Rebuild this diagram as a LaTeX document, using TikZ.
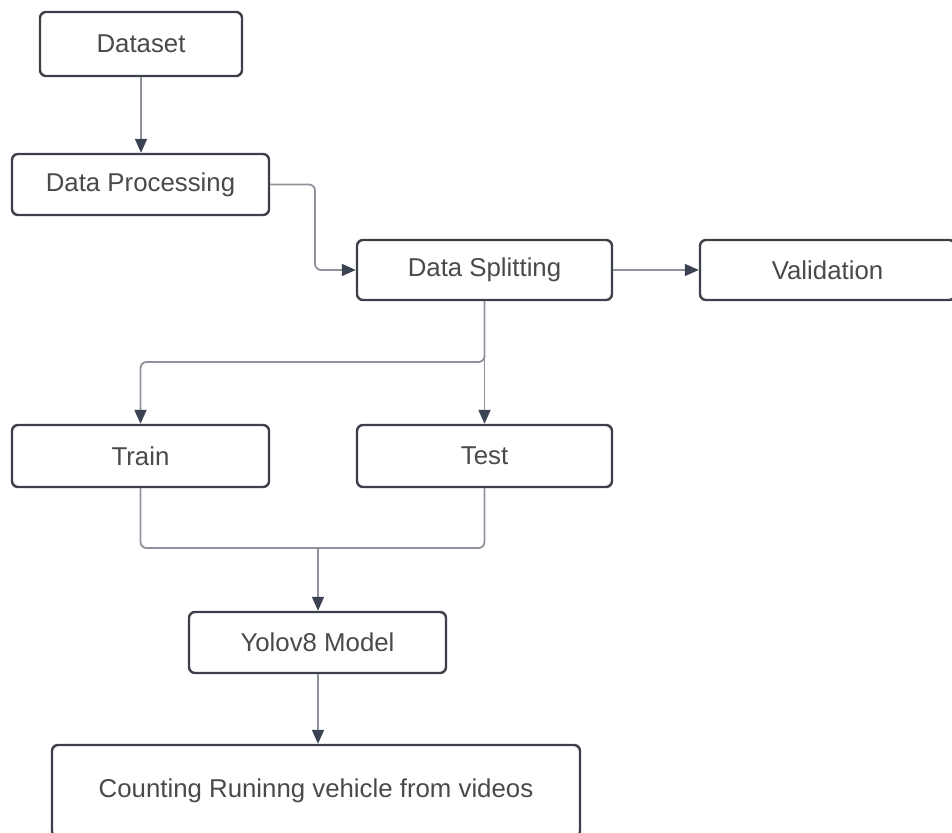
\documentclass[tikz,border=0pt]{standalone}
\usepackage{fontspec}
\setmainfont{Liberation Sans}
\usetikzlibrary{arrows.meta}
\definecolor{boxline}{HTML}{3C4048}
\definecolor{wire}{HTML}{8E939B}
\definecolor{tipc}{HTML}{3B4252}
\definecolor{txt}{HTML}{4A4A4A}
\tikzset{
  box/.style={draw=boxline, line width=2.4pt, rounded corners=6pt, fill=white,
    text=txt, font=\fontsize{25.8}{30}\selectfont, inner sep=0pt},
  wirepath/.style={draw=wire, line width=1.8pt, rounded corners=6pt},
  arr/.style={wirepath, -{Triangle[length=14pt,width=12pt,color=tipc]}},
}
\begin{document}
\begin{tikzpicture}[x=1pt,y=-1pt]
\useasboundingbox (0,0) rectangle (952,832);
\clip (0,0) rectangle (952,832);

% process boxes
\node[box, minimum width=202pt, minimum height=64pt] (dataset) at (141,44) {Dataset};
\node[box, minimum width=257pt, minimum height=61pt] (proc) at (140.5,184.5) {Data Processing};
\node[box, minimum width=255pt, minimum height=60pt] (split) at (484.5,270) {Data Splitting};
\node[box, minimum width=255pt, minimum height=60pt] (valid) at (827.5,270) {Validation};
\node[box, minimum width=257pt, minimum height=62pt] (train) at (140.5,456) {Train};
\node[box, minimum width=255pt, minimum height=62pt] (test) at (484.5,456) {Test};
\node[box, minimum width=257pt, minimum height=61pt] (yolo) at (317.5,642.5) {Yolov8 Model};
\node[box, minimum width=528pt, minimum height=92pt] (count) at (316,791) {Counting Runinng vehicle from videos};

% junction points of the elbow connectors
\coordinate (splitfork) at (484.5,362);
\coordinate (merge) at (318,548);

% connectors
\draw[arr] (dataset.south) -- (dataset.south |- proc.north);
\draw[arr] (proc.east) -- (315,184.5) -- (315,270) -- (split.west);
\draw[arr] (split.east) -- (valid.west);
\draw[arr] (split.south) -- (splitfork) -- (splitfork -| train.north) -- (train.north);
\draw[arr] (split.south) -- (test.north);
\draw[wirepath] (train.south) -- (merge -| train.south) -- (merge);
\draw[wirepath] (test.south) -- (merge -| test.south) -- (merge);
\draw[arr] (merge) -- (merge |- yolo.north);
\draw[arr] (yolo.south -| merge) -- (merge |- count.north);
\end{tikzpicture}
\end{document}
